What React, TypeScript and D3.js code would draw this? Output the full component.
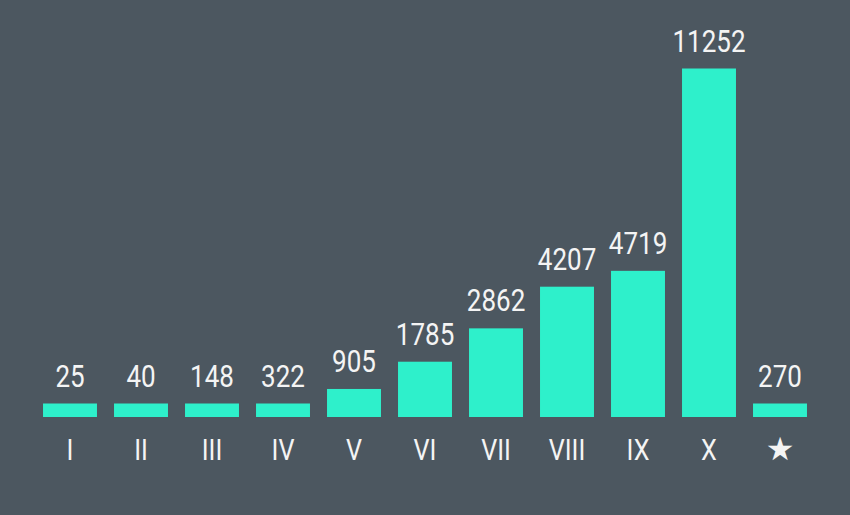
import React from "react";
import * as d3 from "d3";

const categories = ["I", "II", "III", "IV", "V", "VI", "VII", "VIII", "IX", "X", "★"];
const values = [25, 40, 148, 322, 905, 1785, 2862, 4207, 4719, 11252, 270];

const W = 850;
const H = 515;
const BG = "#4c5760";
const BAR = "#2ef0cb";
const TXT = "#f4f4f4";

export default function App() {
  const x = d3
    .scaleBand<string>()
    .domain(categories)
    .range([43 - 17 / 2, 807 + 17 / 2])
    .paddingInner(0.24)
    .paddingOuter(0.12);
  const baseY = 417;
  const y = d3.scaleLinear().domain([0, 11252]).range([baseY, 68.5]);
  const minH = 13.5;
  const barTop = (v: number) => Math.min(y(v), baseY - minH);
  const sx = 0.84;

  return (
    <div style={{ position: "fixed", left: 0, top: 0, width: W, height: H, background: BG }}>
      <svg width={W} height={H} style={{ display: "block" }}>
        <rect x={0} y={0} width={W} height={H} fill={BG} />
        {categories.map((c, i) => {
          const v = values[i];
          const x0 = x(c)!;
          const bw = x.bandwidth();
          const t = barTop(v);
          const cx = x0 + bw / 2;
          return (
            <g key={c}>
              <rect x={x0} y={t} width={bw} height={baseY - t} fill={BAR} />
              <text
                transform={`translate(${cx},${t - 17}) scale(${sx},1)`}
                textAnchor="middle"
                fontFamily="Roboto, 'Noto Sans', sans-serif"
                fontSize={31}
                fill={TXT}
              >
                {v}
              </text>
              <text
                transform={`translate(${cx},${460}) scale(${c === "★" ? 1 : sx},1)`}
                textAnchor="middle"
                fontFamily={c === "★" ? "'DejaVu Sans', sans-serif" : "Roboto, 'Noto Sans', sans-serif"}
                fontSize={c === "★" ? 32 : 30}
                fill={TXT}
              >
                {c}
              </text>
            </g>
          );
        })}
      </svg>
    </div>
  );
}
